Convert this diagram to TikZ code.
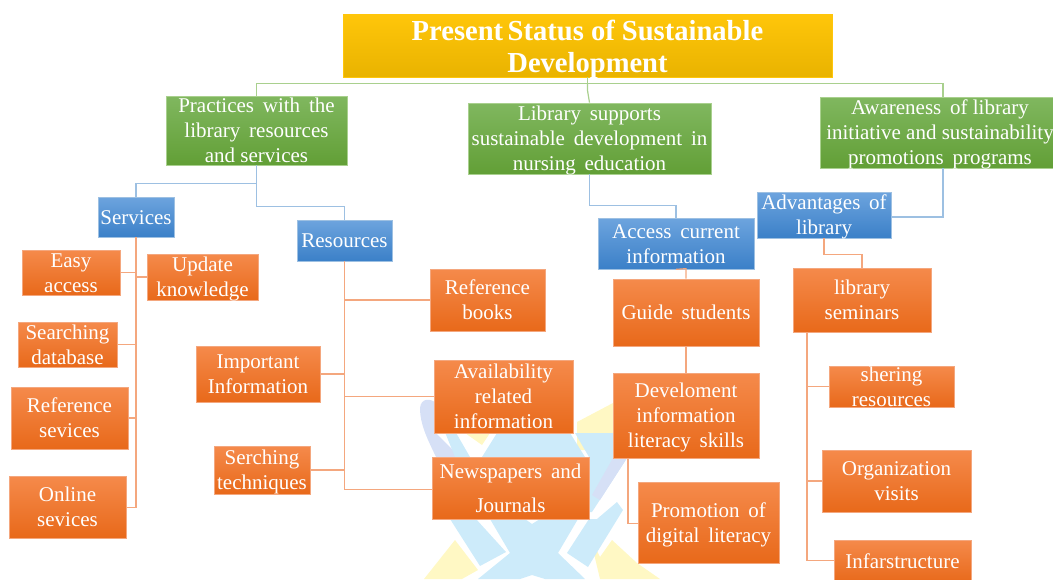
\documentclass[tikz,border=0pt]{standalone}
\usepackage{fontspec}
\setmainfont{Liberation Serif}
\newcommand{\W}{\hskip 0.42em\relax}
\newcommand{\bxdrop}{-7.5pt}
\definecolor{orgT}{HTML}{F58A4B}\definecolor{orgB}{HTML}{E8691A}
\definecolor{grnT}{HTML}{80B75F}\definecolor{grnB}{HTML}{629F36}
\definecolor{bluT}{HTML}{6DA4DE}\definecolor{bluB}{HTML}{3B80C8}
\definecolor{yelT}{HTML}{FFC60A}\definecolor{yelB}{HTML}{E9B300}
\definecolor{linkO}{HTML}{F4A77E}\definecolor{linkB}{HTML}{9DC0E2}\definecolor{linkG}{HTML}{A9D08E}
\definecolor{wmB}{HTML}{CDEBFA}\definecolor{wmY}{HTML}{FFF8C4}\definecolor{wmD}{HTML}{D6E0F6}
\tikzset{
  x=1pt,y=-1pt,
  box/.style={draw=#1,line width=0.7pt,inner sep=0pt,text=white,font=\fontsize{21}{25}\selectfont},
  org/.style={box=linkO,top color=orgT,bottom color=orgB},
  grn/.style={box=linkG,top color=grnT,bottom color=grnB},
  blu/.style={box=linkB,top color=bluT,bottom color=bluB},
  yel/.style={box=yelT,top color=yelT,bottom color=yelB,font=\bfseries\fontsize{29}{32}\selectfont\addfontfeatures{FakeStretch=0.985}\def\bxdrop{-11pt}},
  olink/.style={draw=linkO,line width=1.2pt},
  blink/.style={draw=linkB,line width=1.2pt},
  glink/.style={draw=linkG,line width=1.2pt},
}
\newcommand{\bx}[7]{\node[#1,minimum width=#4-#2,minimum height=#5-#3] (#6) at ({(#2+#4)/2},{(#3+#5)/2}) {\raisebox{\bxdrop}[0pt][0pt]{\begin{tabular}{@{}c@{}}#7\end{tabular}}};}
\begin{document}
\begin{tikzpicture}
\useasboundingbox (0,0) rectangle (1053,579);
% watermark
\fill[wmY] (577,422) -- (613,403) -- (613,450) -- (577,450) -- cycle;
\fill[wmY] (465,433) -- (490,433) -- (482,445) -- cycle;
\fill[wmY] (424,579) -- (455,540) -- (478,570) -- (462,579) -- cycle;
\fill[wmY] (590,537) -- (600,557) -- (612,540) -- (637,563) -- (660,579) -- (600,579) -- cycle;
\fill[wmD] (420,408) .. controls (421,398) and (430,398) .. (436,403) -- (436,433) -- (460,457) -- (436,457) .. controls (428,440) and (420,425) .. (420,408) -- cycle;
\fill[wmB] (434,405) -- (440,405) -- (470,457) -- (455,457) -- cycle;
\fill[wmB] (497,433) -- (570,433) -- (585,457) -- (482,457) -- cycle;
\fill[wmB] (575,433) -- (613,433) -- (613,458) -- (627,458) -- (592,512) -- (589,512) -- (589,457) -- cycle;
\fill[wmD] (613,458) -- (627,458) -- (600,500) -- (592,495) -- cycle;
\fill[wmB] (450,519) -- (476,519) -- (506,552) -- (480,566) -- cycle;
\fill[wmB] (490,519) -- (525,519) -- (532,524) -- (540,519) -- (578,519) -- (558,553) -- (585,579) -- (545,579) -- (532,575) -- (520,579) -- (478,579) -- (510,553) -- cycle;
\fill[wmB] (617,502) -- (623,510) -- (588,567) -- (567,553) -- (589,519) -- (597,519) -- cycle;
% boxes
\bx{yel}{343}{14}{832}{77}{title}{Present\hskip 4.5pt Status of Sustainable\\Development}
\bx{grn}{166}{96}{347}{165}{g1}{Practices\W with\W the\\library\W resources\\and services}
\bx{grn}{468}{103}{711}{174}{g2}{Library\W supports\\sustainable\W development\W in\\nursing\W education}
\bx{grn}{820}{97}{1060}{168}{g3}{Awareness\W of library\\initiative and sustainability\\promotions\W programs}
\bx{blu}{98}{197}{174}{237}{serv}{Services}
\bx{blu}{297}{220}{392}{261}{res}{Resources}
\bx{blu}{598}{218}{754}{269}{acc}{Access\W current\\information}
\bx{blu}{757}{192}{891}{238}{adv}{Advantages\W of\\library}
\bx{org}{22}{250}{120}{295}{easy}{Easy\\access}
\bx{org}{147}{254}{258}{300}{upd}{Update\\knowledge}
\bx{org}{18}{322}{117}{367}{sdb}{Searching\\database}
\bx{org}{11}{387}{128}{449}{rs}{Reference\\sevices}
\bx{org}{9}{476}{126}{538}{os}{Online\\sevices}
\bx{org}{196}{346}{320}{402}{imp}{Important\\Information}
\bx{org}{214}{446}{310}{494}{st}{Serching\\techniques}
\bx{org}{430}{269}{545}{331}{rb}{Reference\\books}
\bx{org}{434}{360}{573}{433}{avail}{Availability\\related\\information}
\bx{org}{432}{457}{589}{519}{news}{Newspapers\W and\\[9pt]Journals}
\bx{org}{613}{279}{759}{346}{guide}{Guide\W students}
\bx{org}{613}{373}{759}{458}{dev}{Develoment\\information\\literacy\W skills}
\bx{org}{638}{482}{779}{563}{promo}{Promotion\W of\\digital\W literacy}
\bx{org}{793}{268}{931}{332}{sem}{library\\seminars}
\bx{org}{829}{366}{954}{407}{sh}{shering\\resources}
\bx{org}{822}{450}{971}{512}{vis}{Organization\\visits}
\bx{org}{834}{540}{971}{583}{inf}{Infarstructure}
% connectors
\coordinate (gr) at (943,168);
\coordinate (grt) at (943,97);
\draw[glink] (title.south) -- ++(0,6) coordinate (t1) -| (g1.north);
\draw[glink] (t1) -| (grt);
\draw[glink] (t1) -- ++(0,7) -- (g2.north);
\draw[blink] (g1.south) -- ++(0,18) coordinate (p1) -| (serv.north);
\draw[blink] (p1) -- ++(0,23) -| (res.north);
\draw[blink] (g2.south) -- ++(0,31) -| (acc.north);
\draw[blink] (gr) |- ([yshift=-2]adv.east);
\draw[olink] (adv.south) -- ++(0,16) -| (sem.north);
\draw[olink] (serv.south) -- ++(0,270) coordinate (s1) -- (os.east |- s1);
\draw[olink] (easy.east) -- (serv.south |- easy.east);
\draw[olink] (upd.west) -- (serv.south |- upd.west);
\draw[olink] (sdb.east) -- (serv.south |- sdb.east);
\draw[olink] (rs.east) -- (serv.south |- rs.east);
\draw[olink] (res.south) -- ++(0,228) coordinate (r1) -- (news.west |- r1);
\draw[olink] (rb.west) -- (res.south |- rb.west);
\draw[olink] (avail.west) -- (res.south |- avail.west);
\draw[olink] (imp.east) -- (res.south |- imp.east);
\draw[olink] (st.east) -- (res.south |- st.east);
\draw[olink] (guide.north) -- ++(0,-10) -- (acc.south);
\draw[olink] (guide.south) -- (dev.north);
\draw[olink] (dev.south) ++(-58,0) coordinate (d1) -- ++(0,65) coordinate (d2) -- (promo.west |- d2);
\draw[olink] (sem.south) ++(-55,0) coordinate (e1) -- ++(0,228) coordinate (e2) -- (inf.west |- e2);
\draw[olink] (sh.west) -- (e1 |- sh.west);
\draw[olink] (vis.west) -- (e1 |- vis.west);
\end{tikzpicture}
\end{document}
